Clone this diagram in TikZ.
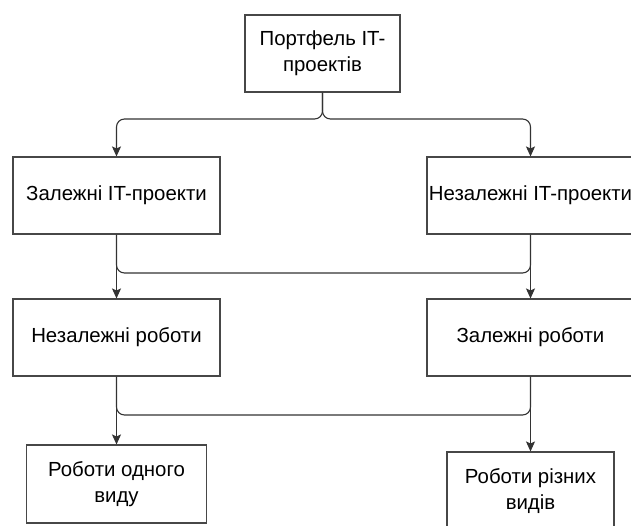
\documentclass[tikz,border=0pt]{standalone}
\usepackage{fontspec}
\setmainfont{Liberation Sans}
\usetikzlibrary{arrows.meta}
\begin{document}
\begin{tikzpicture}[x=1pt,y=-1pt,
  box/.style={draw=black!72, line width=1.1pt, inner sep=0pt, align=center,
    font=\fontsize{20.4}{26}\selectfont},
  conn/.style={draw=black!80, line width=1.1pt, rounded corners=8pt},
  arr/.style={conn, -{Stealth[length=10pt,width=9pt,inset=2pt]}}]
\useasboundingbox (0,0) rectangle (631,525);
\clip (0,0) rectangle (631,525);
\node[box, minimum width=155pt, minimum height=77pt] (top) at (322.5,53.5) {Портфель IT-\\проектів};
\node[box, minimum width=207pt, minimum height=77pt] (L1) at (116.5,195.5) {Залежні IT-проекти};
\node[box, minimum width=207pt, minimum height=77pt] (R1) at (530.5,195.5) {Незалежні IT-проекти};
\node[box, minimum width=207pt, minimum height=77pt] (L2) at (116.5,337.5) {Незалежні роботи};
\node[box, minimum width=207pt, minimum height=77pt] (R2) at (530.5,337.5) {Залежні роботи};
\node[box, minimum width=180pt, minimum height=78pt] (L3) at (116.5,484) {Роботи одного\\виду};
\node[box, minimum width=167pt, minimum height=78pt] (R3) at (530.5,491) {Роботи різних\\видів};
\coordinate (h1) at (0,119);
\coordinate (h2) at (0,273);
\coordinate (h3) at (0,415);
\draw[arr] (top.south) -- (top.south |- h1) -| (L1.north);
\draw[arr] (top.south) -- (top.south |- h1) -| (R1.north);
\draw[conn] (L1.south) -- (L1.south |- h2) -- (R1.south |- h2) -- (R1.south);
\draw[arr] (L1.south) -- (L2.north);
\draw[arr] (R1.south) -- (R2.north);
\draw[conn] (L2.south) -- (L2.south |- h3) -- (R2.south |- h3) -- (R2.south);
\draw[arr] (L2.south) -- (L3.north);
\draw[arr] (R2.south) -- (R3.north);
\end{tikzpicture}
\end{document}
